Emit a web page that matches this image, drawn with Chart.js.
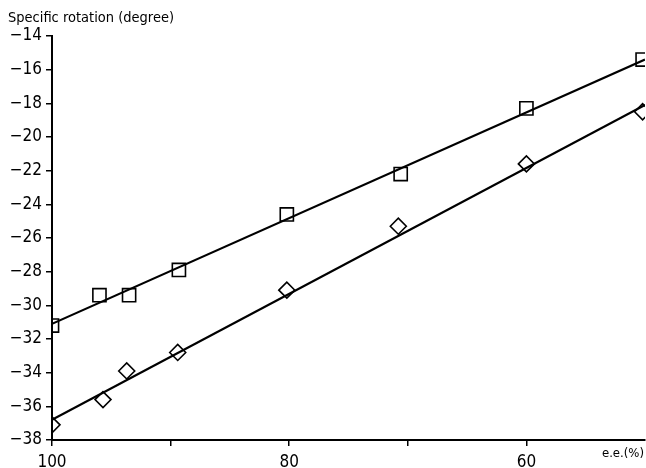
<!DOCTYPE html>
<html>
<head>
<meta charset="utf-8">
<title>Specific rotation vs e.e.</title>
<script src="https://cdn.jsdelivr.net/npm/chart.js@4.4.1/dist/chart.umd.min.js"></script>
<style>
    html, body { margin: 0; padding: 0; background: #fff; }
    #wrap { position: relative; width: 646px; height: 468px; }
</style>
</head>
<body>
<div id="wrap"><canvas id="rotationChart" width="646" height="468"></canvas></div>
<script>
const eeSquare = [100, 96.0, 93.5, 89.3, 80.2, 70.6, 60.0, 50.2];
const rotSquare = [-31.2, -29.4, -29.4, -27.9, -24.6, -22.2, -18.3, -15.4];

const eeDiamond = [100, 95.7, 93.7, 89.4, 80.2, 70.8, 60.0, 50.2];
const rotDiamond = [-37.1, -35.6, -33.9, -32.8, -29.1, -25.3, -21.6, -18.5];

// Straight fitted lines (end points)
const fitEe = [100, 50];
const fitSquare = [-31.1, -15.4];
const fitDiamond = [-36.8, -18.1];

// Axis ticks
const xTicks = [100, 90, 80, 70, 60];
const xLabelled = [100, 80, 60];
const yTicks = [-38, -36, -34, -32, -30, -28, -26, -24, -22, -20, -18, -16, -14];

const yCaption = 'Specific rotation (degree)';
const xCaption = 'e.e.(%)';

function toPoints(xs, ys) {
    return xs.map((x, i) => ({ x: x, y: ys[i] }));
}

const FONT = "'DejaVu Sans Condensed', 'DejaVu Sans', sans-serif";

// draws the two axis captions
const captionPlugin = {
    id: 'captions',
    afterDraw(chart) {
        const ctx = chart.ctx;
        const area = chart.chartArea;
        ctx.save();
        ctx.fillStyle = '#000';
        ctx.font = '14.5px ' + FONT;
        ctx.textBaseline = 'middle';
        ctx.textAlign = 'left';
        ctx.fillText(yCaption, 8, 18);
        ctx.font = '13px ' + FONT;
        ctx.textAlign = 'right';
        ctx.fillText(xCaption, area.right - 1, area.bottom + 14);
        ctx.restore();
    }
};

const ctx = document.getElementById('rotationChart').getContext('2d');
new Chart(ctx, {
    type: 'scatter',
    data: {
        datasets: [
            {
                label: 'fit squares',
                data: toPoints(fitEe, fitSquare),
                showLine: true,
                borderColor: '#000',
                borderWidth: 2.2,
                pointRadius: 0
            },
            {
                label: 'fit diamonds',
                data: toPoints(fitEe, fitDiamond),
                showLine: true,
                borderColor: '#000',
                borderWidth: 2.2,
                pointRadius: 0
            },
            {
                label: 'squares',
                data: toPoints(eeSquare, rotSquare),
                pointStyle: 'rect',
                pointRadius: 9.3,
                pointBorderWidth: 1.6,
                borderColor: '#000',
                backgroundColor: 'rgba(0,0,0,0)'
            },
            {
                label: 'diamonds',
                data: toPoints(eeDiamond, rotDiamond),
                pointStyle: 'rectRot',
                pointRadius: 8,
                pointBorderWidth: 1.6,
                borderColor: '#000',
                backgroundColor: 'rgba(0,0,0,0)'
            }
        ]
    },
    options: {
        responsive: false,
        animation: false,
        layout: { autoPadding: false, padding: { top: 36, right: 1, left: 0, bottom: 0 } },
        plugins: {
            legend: { display: false },
            tooltip: { enabled: false }
        },
        scales: {
            x: {
                type: 'linear',
                reverse: true,
                min: 50,
                max: 100,
                afterBuildTicks: axis => { axis.ticks = xTicks.map(v => ({ value: v })); },
                afterFit: axis => {
                    axis.height = 28;
                    axis.paddingLeft = 0;
                    axis.paddingRight = 0;
                },
                ticks: {
                    autoSkip: false,
                    maxRotation: 0,
                    padding: 6,
                    color: '#000',
                    font: { family: FONT, size: 17 },
                    callback: v => xLabelled.includes(v) ? String(v) : ''
                },
                grid: { drawOnChartArea: false, drawTicks: true, tickLength: 6, color: '#000', lineWidth: 1.5 },
                border: { display: true, color: '#000', width: 2 }
            },
            y: {
                type: 'linear',
                min: -38,
                max: -14,
                afterBuildTicks: axis => { axis.ticks = yTicks.map(v => ({ value: v })); },
                afterFit: axis => { axis.width = 52; },
                ticks: {
                    autoSkip: false,
                    padding: 4,
                    color: '#000',
                    font: { family: FONT, size: 17 },
                    callback: v => '\u2212' + Math.abs(v)
                },
                grid: { drawOnChartArea: false, drawTicks: true, tickLength: 6, color: '#000', lineWidth: 1.5 },
                border: { display: true, color: '#000', width: 2 }
            }
        }
    },
    plugins: [captionPlugin]
});
</script>
</body>
</html>
